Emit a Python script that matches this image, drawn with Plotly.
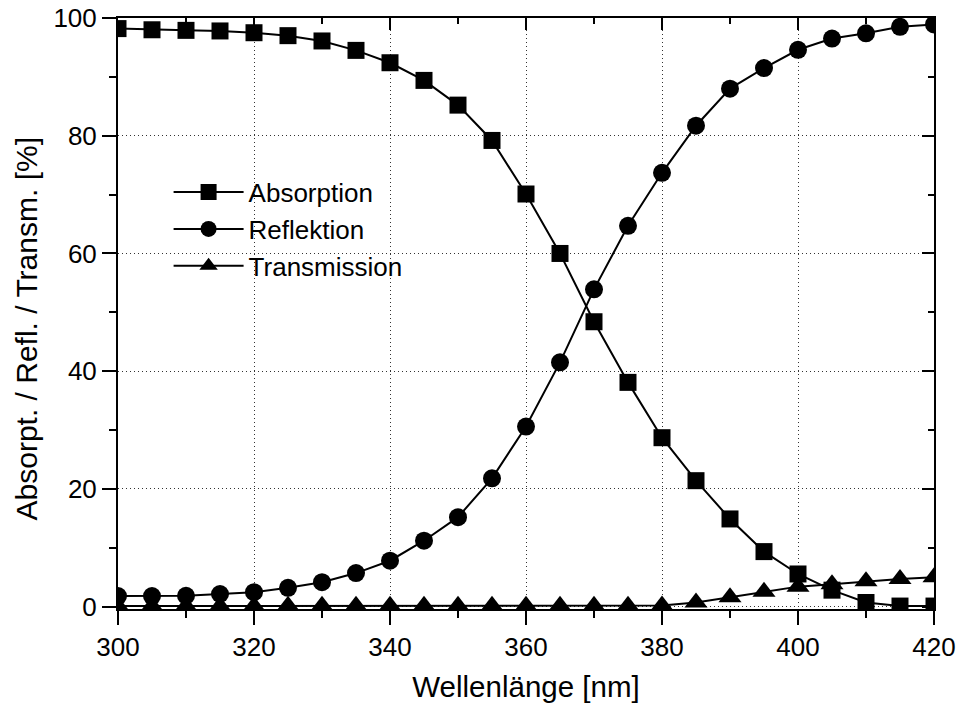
import plotly.graph_objects as go

wavelength = [300, 305, 310, 315, 320, 325, 330, 335, 340, 345, 350, 355, 360, 365,
              370, 375, 380, 385, 390, 395, 400, 405, 410, 415, 420]
absorption = [98.2, 98.0, 97.9, 97.8, 97.5, 97.0, 96.1, 94.5, 92.4, 89.4, 85.2, 79.2, 70.1,
              60.0, 48.4, 38.1, 28.7, 21.4, 14.9, 9.35, 5.55, 2.8, 0.7, 0.1, 0.1]
reflection = [1.8, 1.8, 1.85, 2.15, 2.45, 3.2, 4.15, 5.7, 7.8, 11.2, 15.2, 21.8, 30.6,
              41.5, 53.9, 64.7, 73.7, 81.7, 88.0, 91.5, 94.6, 96.5, 97.4, 98.5, 98.9]
transmission = [0.1, 0.1, 0.1, 0.1, 0.1, 0.15, 0.15, 0.15, 0.15, 0.15, 0.15, 0.15, 0.15,
                0.15, 0.15, 0.15, 0.2, 0.7, 1.6, 2.55, 3.4, 3.8, 4.3, 4.7, 5.0]

series = [("Absorption", absorption, "square", 17),
          ("Reflektion", reflection, "circle", 18),
          ("Transmission", transmission, "triangle-up", 20)]

FONT = "Arial, Liberation Sans, sans-serif"

fig = go.Figure()
for name, vals, sym, sz in series:
    fig.add_trace(go.Scatter(
        x=wavelength, y=vals, name=name, mode="lines+markers",
        line=dict(color="black", width=2),
        marker=dict(symbol=sym, size=sz, color="black", line=dict(width=0)),
    ))

# empty trace to activate mirrored (inward-tick) top/right axes
fig.add_trace(go.Scatter(x=[], y=[], xaxis="x2", yaxis="y2", showlegend=False))

xr = [300, 420]
yr = [-0.4, 100]
GRID = dict(showgrid=True, gridcolor="#333", griddash="1px,3px", gridwidth=1)

fig.update_layout(
    width=960, height=703,
    margin=dict(l=118, r=26, t=18, b=94, autoexpand=False),
    paper_bgcolor="white", plot_bgcolor="white",
    font=dict(family=FONT, color="black"),
    showlegend=True,
    legend=dict(x=0.062, y=0.745, xanchor="left", yanchor="top",
                font=dict(family=FONT, size=26, color="black"),
                bgcolor="rgba(0,0,0,0)", itemwidth=70, tracegroupgap=0),
    xaxis=dict(range=xr, dtick=20, tick0=300, ticks="outside", ticklen=14, tickwidth=2,
               tickcolor="black", showline=True, linewidth=2, linecolor="black",
               zeroline=False, tickfont=dict(size=26, family=FONT), automargin=False,
               minor=dict(dtick=10, tick0=300, ticks="outside", ticklen=7, tickwidth=2,
                          tickcolor="black", showgrid=False),
               title=dict(text="Wellenlänge [nm]", font=dict(size=29.5, family=FONT), standoff=16),
               **GRID),
    yaxis=dict(range=yr, dtick=20, tick0=0, ticks="outside", ticklen=14, tickwidth=2,
               tickcolor="black", showline=True, linewidth=2, linecolor="black",
               zeroline=False, tickfont=dict(size=26, family=FONT), automargin=False,
               minor=dict(dtick=10, tick0=0, ticks="outside", ticklen=7, tickwidth=2,
                          tickcolor="black", showgrid=False),
               **GRID),
    xaxis2=dict(range=xr, overlaying="x", side="top", anchor="y", dtick=20, tick0=300,
                ticks="inside", ticklen=12, tickwidth=2, tickcolor="black",
                showline=True, linewidth=2, linecolor="black", showgrid=False,
                zeroline=False, showticklabels=False, automargin=False,
                minor=dict(dtick=10, tick0=300, ticks="inside", ticklen=6, tickwidth=2,
                           tickcolor="black", showgrid=False)),
    yaxis2=dict(range=yr, overlaying="y", side="right", anchor="x", dtick=20, tick0=0,
                ticks="inside", ticklen=12, tickwidth=2, tickcolor="black",
                showline=True, linewidth=2, linecolor="black", showgrid=False,
                zeroline=False, showticklabels=False, automargin=False,
                minor=dict(dtick=10, tick0=0, ticks="inside", ticklen=6, tickwidth=2,
                           tickcolor="black", showgrid=False)),
    annotations=[dict(text="Absorpt. / Refl. / Transm. [%]", textangle=-90,
                      xref="paper", yref="paper", x=-0.112, y=0.474,
                      xanchor="center", yanchor="middle", showarrow=False,
                      font=dict(size=30, family=FONT, color="black"))],
)

fig.write_html("out.html")
